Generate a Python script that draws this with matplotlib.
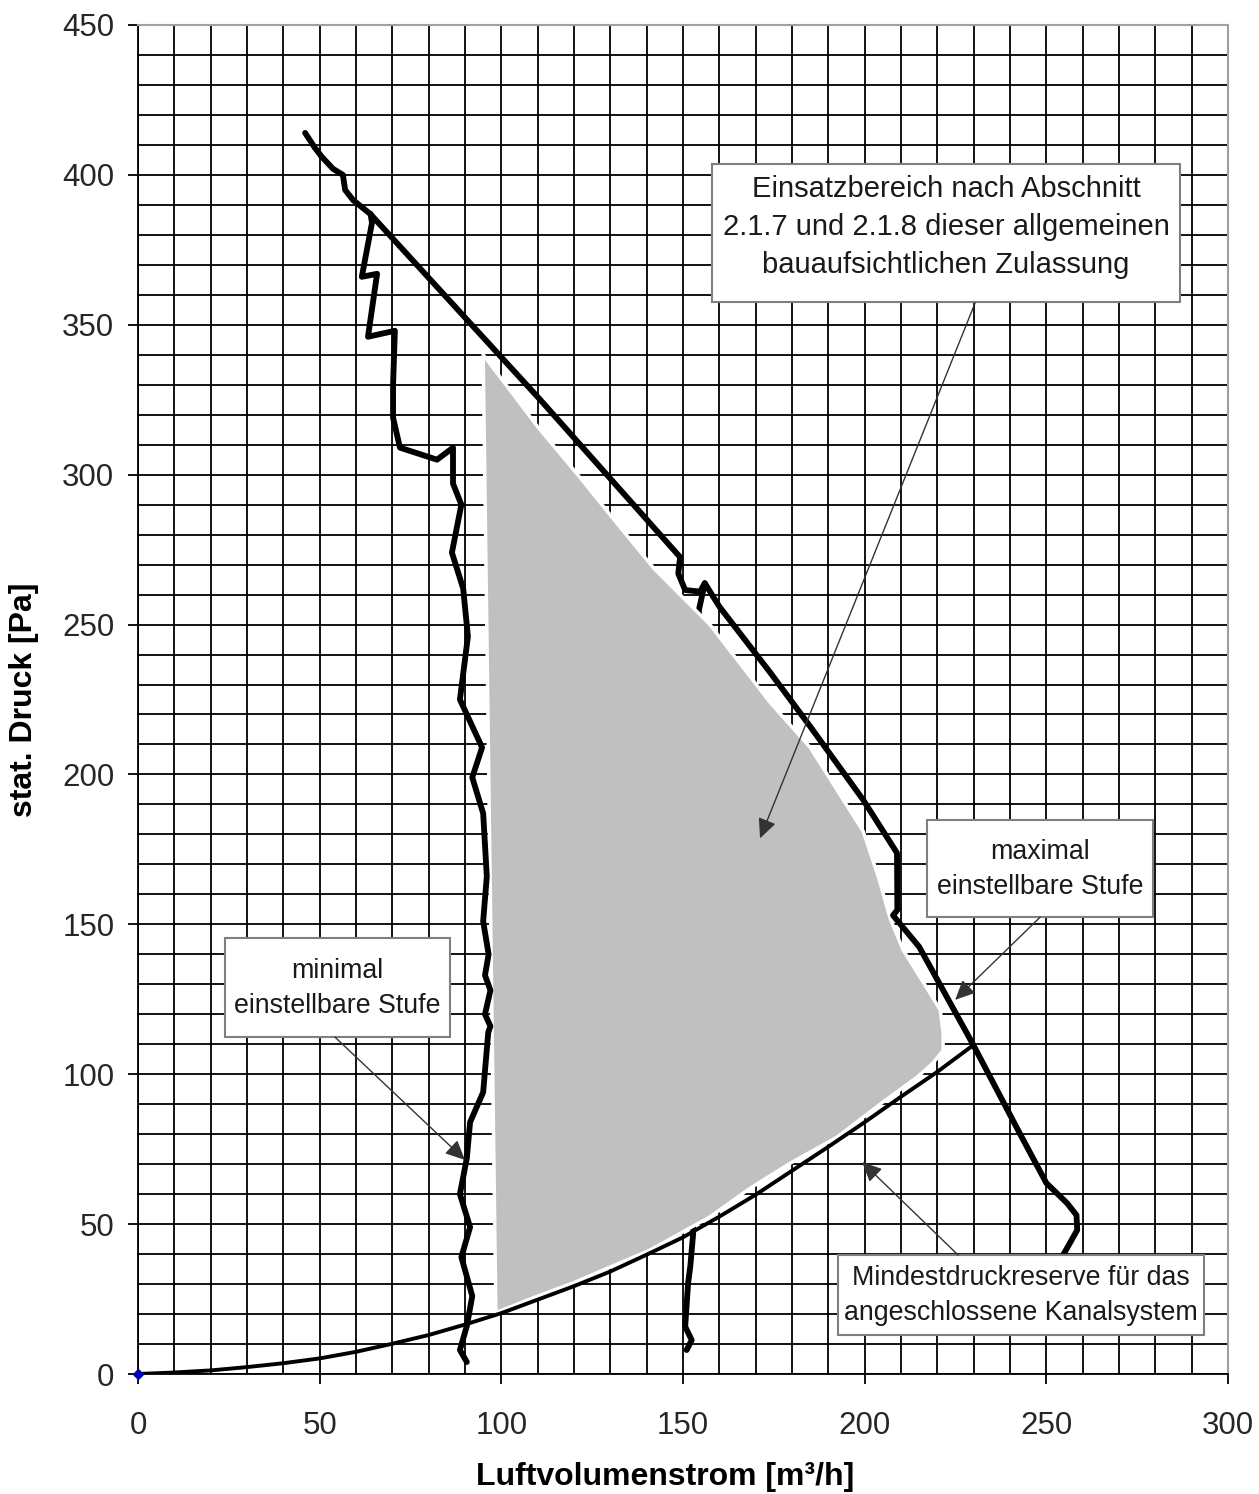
"""
Kennlinien-Diagramm: stat. Druck ueber Luftvolumenstrom mit Einsatzbereich.
"""
import matplotlib
matplotlib.use('Agg')
import matplotlib.pyplot as plt
from matplotlib.patches import Rectangle, Polygon
from matplotlib.ticker import MultipleLocator

plt.rcParams['font.family'] = ['Liberation Sans', 'DejaVu Sans']

# maximal einstellbare Stufe
max_x = [46, 48.7, 50.6, 53.7, 56.4, 57, 59.2, 63.9, 110.7, 149.2, 148.7, 150.6, 154.7, 156,
         160, 174, 185, 199.6, 208.9, 209, 207.8, 215, 229.8, 242.8, 250, 255.7, 258.3, 258.5,
         254.3, 252]
max_y = [414, 409, 406, 402, 400, 395, 391.6, 387, 325, 272.5, 267, 261.5, 261, 263.8,
         256, 234, 216, 191.5, 173.8, 154.8, 153, 142.5, 110, 80, 63.7, 57, 53, 48,
         39, 33]

# minimal einstellbare Stufe
min_x = [64.0, 64.4, 61.6, 65.8, 63.3, 70.7, 70.2, 70.2, 72.1, 82.3, 86.7, 86.7, 89, 86.4,
         89.5, 90.8, 88.6, 94.7, 92, 95, 96, 95, 96.5, 95.5, 97, 95.5, 97, 96.4, 95, 91.4,
         90.5, 88.6, 91.4, 89, 92, 90.5, 88.6, 90.5]
min_y = [387, 384, 366, 367, 346, 348, 330, 319, 309, 305, 309, 297, 290, 274,
         262, 246, 225, 209, 199, 187, 166, 151, 140, 133, 128, 120, 116, 114, 94, 84,
         72, 60, 49, 39, 26, 16, 8, 4]

# mittlere Stufe (groesstenteils vom Einsatzbereich verdeckt)
mid_x = [156, 154.4, 153, 152, 152.8, 152, 151.4, 150.6, 152.4, 151]
mid_y = [263.8, 255, 200, 100, 46.9, 35.8, 30.3, 15.8, 11.3, 8]

# Mindestdruckreserve
res_x = [0, 10, 20, 30, 40, 50, 60, 70, 80, 90, 100, 110, 120, 130, 140, 150, 160, 170,
         180, 190, 200, 210, 220, 230]
res_y = [0, 0.5, 1.2, 2.3, 3.6, 5.2, 7.4, 10.1, 13, 16.5, 20.3, 24.8, 29.3, 34.2, 39.8,
         45.6, 52.5, 59.8, 67.8, 75.8, 84, 92.5, 100.8, 109.8]

# Einsatzbereich (grau)
area_x = [95.0, 110, 121.7, 131, 141.8, 157.4, 174, 185, 199.6, 204, 207, 210.6, 217, 220.8,
          221.6, 221.6, 218.8, 214.4, 205, 192.4, 179.5, 168.5, 157.4, 141, 120, 110, 98.5]
area_y = [340, 316, 299, 285, 269, 250, 224, 209, 181, 165, 152, 141.4, 129, 121.4,
          113.7, 108, 103.7, 99, 90.7, 79, 70.3, 62, 52.4, 41.4, 30.5, 26, 20.5]

fig = plt.figure(figsize=(12.59, 14.94), dpi=100)
ax = fig.add_axes([138 / 1259, 120 / 1494, 1090 / 1259, 1349 / 1494])

ax.set_xlim(0, 300)
ax.set_ylim(0, 450)
ax.xaxis.set_major_locator(MultipleLocator(50))
ax.yaxis.set_major_locator(MultipleLocator(50))
ax.xaxis.set_minor_locator(MultipleLocator(10))
ax.yaxis.set_minor_locator(MultipleLocator(10))
ax.grid(which='both', color='black', linewidth=1.3)
ax.set_axisbelow(True)
ax.tick_params(which='minor', length=0)
ax.tick_params(which='major', length=7, width=1.3, color='black',
               labelsize=22.5, labelcolor='#262626')
ax.tick_params(axis='x', pad=20)
ax.tick_params(axis='y', pad=10)

for side in ['top', 'right']:
    ax.spines[side].set_color('#a0a0a0')
    ax.spines[side].set_linewidth(1.5)
for side in ['left', 'bottom']:
    ax.spines[side].set_color('black')
    ax.spines[side].set_linewidth(1.3)

ax.set_xlabel('Luftvolumenstrom [m³/h]', fontsize=23, fontweight='bold')
ax.set_ylabel('stat. Druck [Pa]', fontsize=23, fontweight='bold')
ax.xaxis.set_label_coords(0.484, -0.065)
ax.yaxis.set_label_coords(-0.091, 0.5)

# curves
ax.plot(mid_x, mid_y, color='black', linewidth=4.2, zorder=1.5, solid_capstyle='round')
ax.add_patch(Polygon(list(zip(area_x, area_y)), closed=True, facecolor='#c0c0c0',
                     edgecolor='white', linewidth=2.5, zorder=2))
ax.plot(max_x, max_y, color='black', linewidth=4.2, zorder=3,
        solid_capstyle='round', solid_joinstyle='round')
ax.plot(min_x, min_y, color='black', linewidth=4.2, zorder=3,
        solid_capstyle='round', solid_joinstyle='round')
ax.plot(res_x, res_y, color='black', linewidth=2.8, zorder=3)
ax.plot([0], [0], marker='D', markersize=5, color='#0000c0', zorder=4, clip_on=False)

# annotation boxes
boxes = [
    # (x0, x1, y0, y1, text center x, text center y, text, fontsize)
    (158.0, 286.8, 357.6, 403.6, 222.4, 382.5,
     'Einsatzbereich nach Abschnitt\n2.1.7 und 2.1.8 dieser allgemeinen\nbauaufsichtlichen Zulassung', 21),
    (217.2, 279.4, 152.4, 184.8, 248.3, 168.3, 'maximal\neinstellbare Stufe', 19.3),
    (23.9, 85.9, 112.4, 145.4, 54.8, 128.6, 'minimal\neinstellbare Stufe', 19.3),
    (192.7, 293.4, 13.0, 39.7, 243.0, 26.2,
     'Mindestdruckreserve für das\nangeschlossene Kanalsystem', 19.3),
]
for x0, x1, y0, y1, tx, ty, txt, fs in boxes:
    ax.add_patch(Rectangle((x0, y0), x1 - x0, y1 - y0, facecolor='white',
                           edgecolor='#7f7f7f', linewidth=1.5, zorder=5))
    ax.text(tx, ty, txt, ha='center', va='center', fontsize=fs, color='#1a1a1a',
            linespacing=1.45, zorder=6)

# arrows (start on box edge, end at target)
arrows = [
    ((230.4, 357.3), (171.2, 178.7)),
    ((248.3, 152.4), (224.9, 124.8)),
    ((54.2, 112.4), (90.0, 71.4)),
    ((225.7, 39.7), (199.3, 70.7)),
]
for start, end in arrows:
    ax.annotate('', xy=end, xytext=start, zorder=7,
                arrowprops=dict(arrowstyle='-|>,head_length=0.6,head_width=0.28',
                                color='#333333', lw=1.0, mutation_scale=20,
                                shrinkA=0, shrinkB=0))

fig.savefig('out.png', dpi=100, facecolor='white')
